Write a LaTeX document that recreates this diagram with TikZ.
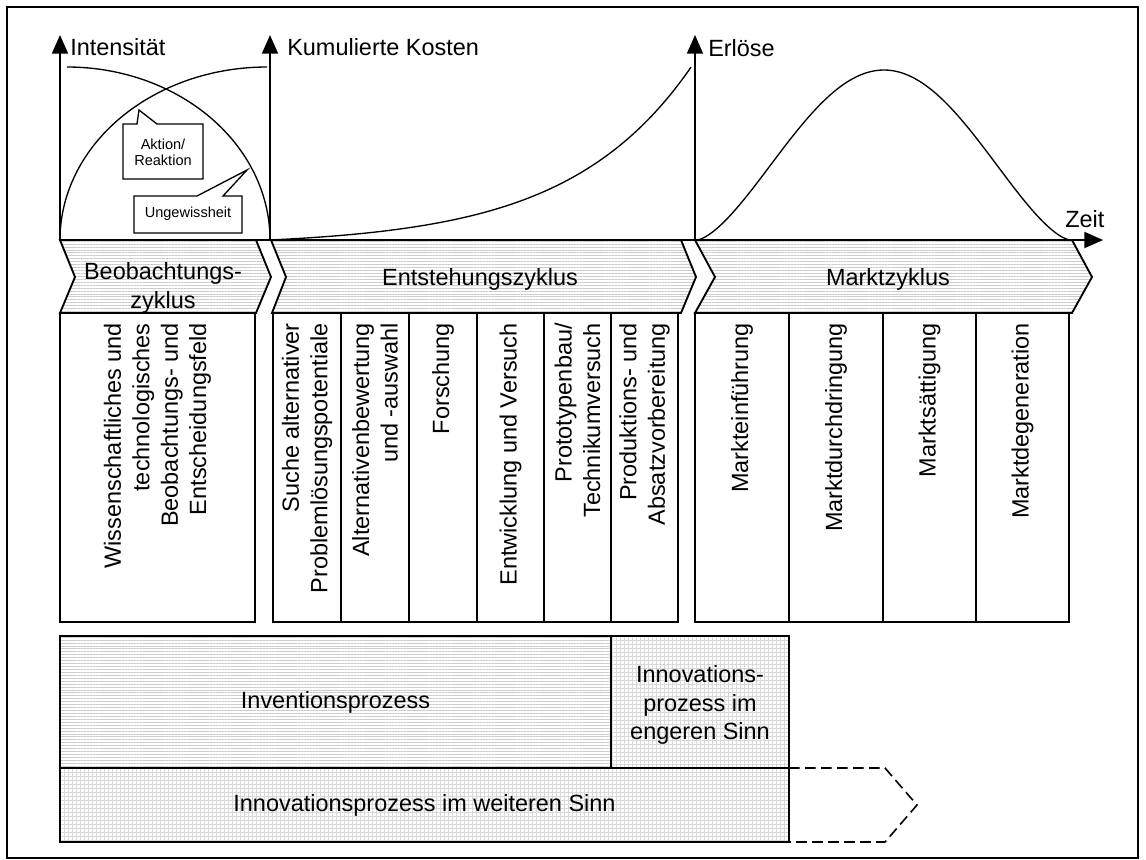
\documentclass[tikz,border=0pt]{standalone}
\usepackage{fontspec}
\setmainfont{Liberation Sans}
\usetikzlibrary{arrows.meta,patterns.meta}

\tikzset{
  boxline/.style={draw, line width=1.4pt},
  hatchfill/.style={pattern={Lines[angle=0,distance=2.2pt,line width=0.45pt]}, pattern color=black!20},
  gridfill/.style={pattern={Hatch[angle=0,distance=3pt,line width=0.4pt]}, pattern color=black!15},
  curveline/.style={line width=1pt},
  axisline/.style={line width=1.4pt, -{Triangle[width=12pt,length=14pt]}},
  bigtext/.style={font=\fontsize{17.6}{21.3}\selectfont, inner sep=0pt, align=center},
  vlabel/.style={bigtext, rotate=90, anchor=east, align=right},
  smalltext/.style={font=\fontsize{10.9}{12}\selectfont, inner sep=0pt, align=center},
  calloutline/.style={draw, line width=1pt, fill=white},
}

\begin{document}
\begin{tikzpicture}[x=0.75pt,y=-0.75pt]
\useasboundingbox (0,0) rectangle (1146,860);
\draw[line width=1.5pt] (7,7) rectangle (1138,858);

% axes
\coordinate (o1) at (60,240);
\coordinate (t1) at (60,35);
\coordinate (o2) at (270,240);
\coordinate (t2) at (270,35);
\coordinate (o3) at (695,240);
\coordinate (t3) at (695,35);
\coordinate (tz) at (1103,240);

% curves (bell shape parametrised by a unit parameter t in [-1,1])
\draw[curveline] plot[domain=90:0, samples=60, smooth] ({67+203*cos(\x)}, {240-173*sin(\x)});
\draw[curveline] plot[domain=180:90, samples=60, smooth] ({267+207*cos(\x)}, {240-173*sin(\x)});
\draw[curveline] plot[domain=0:421, samples=60, smooth] ({270+\x}, {240-5.9*(exp(0.0081*\x)-1)});
\draw[curveline] plot[domain=-1:0, samples=50, smooth]
  ({884+187*\x}, {240-170*abs(cos(90*\x))*sqrt(abs(cos(90*\x))+0.0001)});
\draw[curveline] plot[domain=0:1, samples=50, smooth]
  ({884+186*\x}, {240-170*abs(cos(90*\x))*sqrt(abs(cos(90*\x))+0.0001)});

% callouts
\draw[calloutline] (123,124) -- (137,124) -- (139,110) -- (157,124) -- (203,124)
  -- (203,179) -- (123,179) -- cycle;
\node[smalltext] (aktion) at (163,152) {Aktion/\\Reaktion};
\draw[calloutline] (134,196) -- (197,196) -- (247,170) -- (223,196) -- (242,196)
  -- (242,233) -- (134,233) -- cycle;
\node[smalltext] (ungew) at (188,214) {Ungewissheit};

% chevrons
\draw[boxline, hatchfill] (60,240) -- (256,240) -- (271,277) -- (256,313) -- (60,313) -- (75,277) -- cycle;
\draw[boxline, hatchfill] (271,240) -- (681,240) -- (696,277) -- (681,313) -- (272,313) -- (286,277) -- cycle;
\draw[boxline, hatchfill] (695,240) -- (1072,240) -- (1092,277) -- (1072,313) -- (695,313) -- (715,277) -- cycle;
\node[bigtext] (beob) at (163,288) {Beobachtungs-\\zyklus};
\node[bigtext] (entst) at (480,279) {Entstehungszyklus};
\node[bigtext] (markt) at (888,279) {Marktzyklus};

% axes drawn over chevron tops
\draw[axisline] (o1) -- (t1);
\draw[axisline] (o2) -- (t2);
\draw[axisline] (o3) -- (t3);
\draw[axisline] (o1) -- (tz);
\node[bigtext, anchor=base west] (lint) at (70,55) {Intensität};
\node[bigtext, anchor=base west] (lkos) at (287,55) {Kumulierte Kosten};
\node[bigtext, anchor=base west] (lerl) at (708,56) {Erlöse};
\node[bigtext, anchor=base west] (lzeit) at (1065,227) {Zeit};

% phase columns
\draw[boxline] (60,313) rectangle (255,622);
\foreach \a/\b in {273/341,341/409,409/477,477/544,544/611,611/678,695/789,789/883,883/976,976/1069}
  \draw[boxline] (\a,313) rectangle (\b,622);

\node[vlabel] (c1) at (157.5,323) {Wissenschaftliches und\\technologisches\\Beobachtungs- und\\Entscheidungsfeld};
\node[vlabel] (c2) at (307,323) {Suche alternativer\\Problemlösungspotentiale};
\node[vlabel] (c3) at (375,323) {Alternativenbewertung\\und -auswahl};
\node[vlabel] (c4) at (443,323) {Forschung};
\node[vlabel] (c5) at (510.5,323) {Entwicklung und Versuch};
\node[vlabel] (c6) at (577.5,323) {Prototypenbau/\\Technikumversuch};
\node[vlabel] (c7) at (644.5,323) {Produktions- und\\Absatzvorbereitung};
\node[vlabel] (c8) at (742,323) {Markteinführung};
\node[vlabel] (c9) at (836,323) {Marktdurchdringung};
\node[vlabel] (c10) at (929.5,323) {Marktsättigung};
\node[vlabel] (c11) at (1022.5,323) {Marktdegeneration};

% process boxes
\draw[boxline, hatchfill] (60,636) rectangle (611,768);
\draw[boxline, gridfill] (611,636) rectangle (789,768);
\draw[boxline, gridfill] (60,768) rectangle (789,842);
\draw[line width=1.2pt, dash pattern=on 8pt off 4pt] (789,768) -- (885,768) -- (917,805) -- (885,842) -- (789,842);
\node[bigtext] (inv) at (335.5,702) {Inventionsprozess};
\node[bigtext] (inne) at (700,705) {Innovations-\\prozess im\\engeren Sinn};
\node[bigtext] (inwe) at (424.5,805) {Innovationsprozess im weiteren Sinn};
\end{tikzpicture}
\end{document}
